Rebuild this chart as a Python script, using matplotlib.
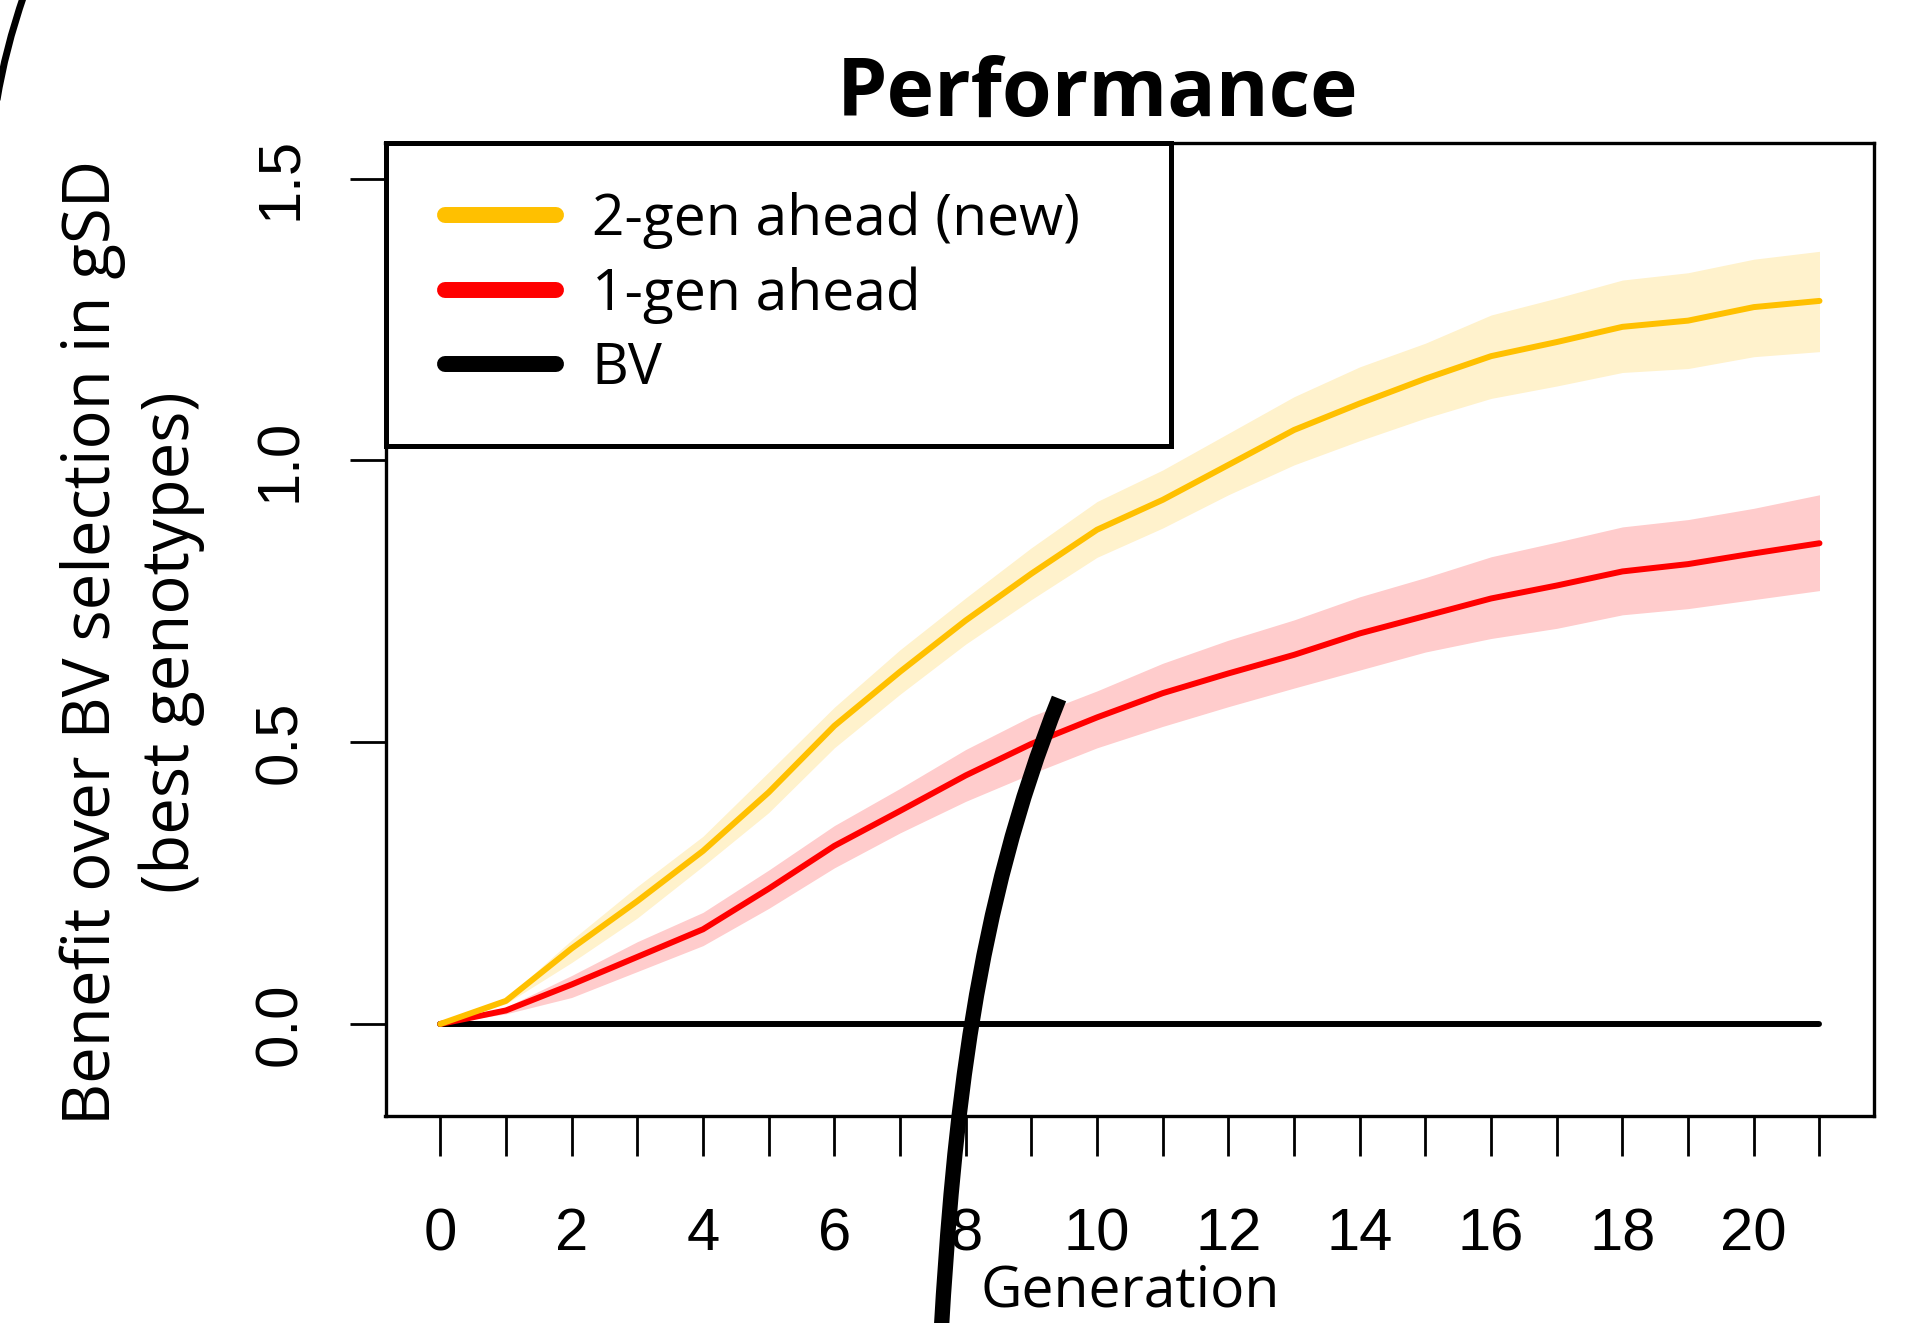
import matplotlib
matplotlib.use("Agg")
import matplotlib.pyplot as plt
from matplotlib.path import Path
from matplotlib.patches import PathPatch
from matplotlib.transforms import Affine2D
from matplotlib.lines import Line2D
from matplotlib.legend_handler import HandlerLine2D

# generations and benefit over BV selection (gSD)
gen = list(range(22))
two_gen = [0, 0.041, 0.134, 0.218, 0.307, 0.411, 0.529, 0.625, 0.716, 0.799, 0.877,
           0.930, 0.992, 1.054, 1.101, 1.145, 1.185, 1.210, 1.237, 1.248, 1.272, 1.283]
two_gen_hi = [0, 0.045, 0.149, 0.244, 0.333, 0.447, 0.562, 0.664, 0.756, 0.845, 0.927,
              0.983, 1.048, 1.113, 1.166, 1.208, 1.258, 1.288, 1.320, 1.333, 1.357, 1.371]
two_gen_lo = [0, 0.036, 0.109, 0.188, 0.280, 0.375, 0.490, 0.585, 0.674, 0.753, 0.828,
              0.880, 0.939, 0.992, 1.035, 1.075, 1.110, 1.132, 1.156, 1.163, 1.184, 1.193]
one_gen = [0, 0.024, 0.070, 0.119, 0.168, 0.240, 0.316, 0.378, 0.441, 0.497, 0.544,
           0.587, 0.622, 0.655, 0.693, 0.724, 0.755, 0.778, 0.803, 0.816, 0.835, 0.853]
one_gen_hi = [0, 0.030, 0.086, 0.146, 0.198, 0.273, 0.352, 0.418, 0.487, 0.546, 0.591,
              0.640, 0.681, 0.717, 0.758, 0.792, 0.829, 0.855, 0.882, 0.895, 0.915, 0.939]
one_gen_lo = [0, 0.018, 0.047, 0.093, 0.139, 0.205, 0.277, 0.339, 0.395, 0.444, 0.490,
              0.528, 0.563, 0.596, 0.628, 0.660, 0.684, 0.702, 0.726, 0.737, 0.753, 0.769]
bv = [0] * 22

yticks = [0.0, 0.5, 1.0, 1.5]
xticks = list(range(22))
xlabels = [str(g) if g % 2 == 0 else "" for g in xticks]

W, H = 1907, 1323
fig = plt.figure(figsize=(W / 100, H / 100), dpi=100)
ax = fig.add_axes([385.5 / W, 1 - 1115.5 / H, (1874 - 385.5) / W, (1115.5 - 143.5) / H])

ax.fill_between(gen, two_gen_lo, two_gen_hi, color="#FFF2CC", lw=0, zorder=1)
ax.fill_between(gen, one_gen_lo, one_gen_hi, color="#FFCCCC", lw=0, zorder=1)
l0, = ax.plot(gen, bv, color="black", lw=4.3, solid_capstyle="round", label="BV", zorder=2)
l1, = ax.plot(gen, one_gen, color="#FF0000", lw=4.3, solid_capstyle="round",
              solid_joinstyle="round", label="1-gen ahead", zorder=3)
l2, = ax.plot(gen, two_gen, color="#FFC000", lw=4.3, solid_capstyle="round",
              solid_joinstyle="round", label="2-gen ahead (new)", zorder=3)

ax.set_xlim(-0.834, 21.83)
ax.set_ylim(-0.1624, 1.5623)
ax.set_xticks(xticks)
ax.set_xticklabels(xlabels, fontfamily="Liberation Sans", fontsize=43)
ax.set_yticks(yticks)
ax.set_yticklabels(["0.0", "0.5", "1.0", "1.5"], fontfamily="Liberation Sans", fontsize=43,
                   rotation=90, va="center")
ax.tick_params(axis="x", length=29, width=2, pad=37)
ax.tick_params(axis="y", length=26, width=2, pad=30)
for s in ax.spines.values():
    s.set_linewidth(2.4)

txt = "Open Sans"
ax.set_title("Performance", fontfamily=txt, fontweight="bold", fontsize=58,
             x=0.4786, y=1.0288, pad=0, va="baseline")
ax.set_xlabel("Generation", fontfamily=txt, fontsize=41, va="baseline")
ax.xaxis.set_label_coords(0.5, -0.197)
ax.set_ylabel("Benefit over BV selection in gSD\n(best genotypes)", fontfamily=txt,
              fontsize=47, va="center", linespacing=1.25)
ax.yaxis.set_label_coords(-0.1704, 0.487)

leg = ax.legend(handles=[l2, l1, l0], loc="upper left", bbox_to_anchor=(0, 1, 0.5276, 0),
                mode="expand", borderaxespad=0, fancybox=False, edgecolor="black",
                framealpha=1, prop={"family": txt, "size": 41},
                handler_map={Line2D: HandlerLine2D(xpad=0.2)},
                handlelength=2.15, handletextpad=0.62, borderpad=0.85, labelspacing=0.3)
leg.get_frame().set_linewidth(3.6)
for ln in leg.get_lines():
    ln.set_linewidth(11.5)
    ln.set_solid_capstyle("round")

# hand-drawn strokes over the figure, in pixel coords from the top-left corner
px = Affine2D().scale(1 / W, -1 / H).translate(0, 1) + fig.transFigure
stroke1 = Path([(1059, 698.5), (975, 908.5), (953.6, 1120), (941, 1335)],
               [Path.MOVETO, Path.CURVE4, Path.CURVE4, Path.CURVE4])
stroke2 = Path([(24, -5), (5, 50), (-3, 100)], [Path.MOVETO, Path.CURVE3, Path.CURVE3])
fig.add_artist(PathPatch(stroke1, transform=px, fill=False, edgecolor="black", lw=11,
                         capstyle="butt", zorder=10, clip_on=False))
fig.add_artist(PathPatch(stroke2, transform=px, fill=False, edgecolor="black", lw=5,
                         capstyle="butt", zorder=10, clip_on=False))

fig.savefig("out.png", dpi=100)
